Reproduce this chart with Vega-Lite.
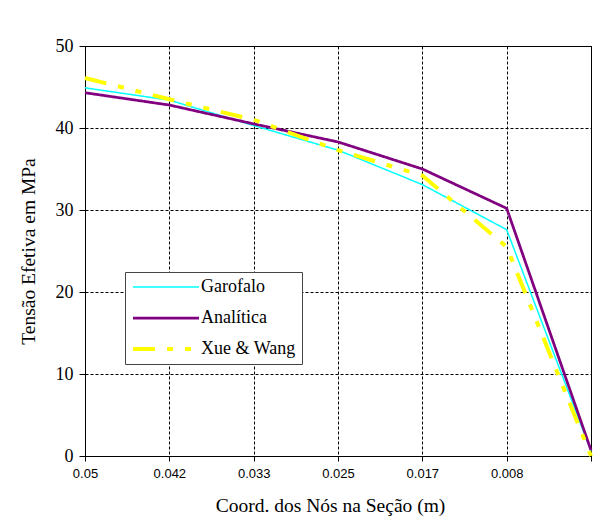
{
  "$schema": "https://vega.github.io/schema/vega-lite/v6.json",
  "width": 506,
  "height": 410,
  "autosize": {"type": "none"},
  "padding": {"left": 85, "top": 46, "right": 25, "bottom": 67},
  "background": "white",
  "data": {
    "values": [
      {"coord": "0.05", "series": "Garofalo", "v": 44.9},
      {"coord": "0.042", "series": "Garofalo", "v": 43.4},
      {"coord": "0.033", "series": "Garofalo", "v": 40.3},
      {"coord": "0.025", "series": "Garofalo", "v": 37.3},
      {"coord": "0.017", "series": "Garofalo", "v": 33.1},
      {"coord": "0.008", "series": "Garofalo", "v": 27.6},
      {"coord": "0", "series": "Garofalo", "v": 0.6},
      {"coord": "0.05", "series": "Analítica", "v": 44.3},
      {"coord": "0.042", "series": "Analítica", "v": 42.8},
      {"coord": "0.033", "series": "Analítica", "v": 40.5},
      {"coord": "0.025", "series": "Analítica", "v": 38.3},
      {"coord": "0.017", "series": "Analítica", "v": 35.0},
      {"coord": "0.008", "series": "Analítica", "v": 30.2},
      {"coord": "0", "series": "Analítica", "v": 0.7},
      {"coord": "0.05", "series": "Xue & Wang", "v": 46.1},
      {"coord": "0.042", "series": "Xue & Wang", "v": 43.5},
      {"coord": "0.033", "series": "Xue & Wang", "v": 41.0},
      {"coord": "0.025", "series": "Xue & Wang", "v": 37.3},
      {"coord": "0.017", "series": "Xue & Wang", "v": 34.2},
      {"coord": "0.008", "series": "Xue & Wang", "v": 25.5},
      {"coord": "0", "series": "Xue & Wang", "v": 0}
    ]
  },
  "encoding": {
    "x": {
      "field": "coord",
      "type": "ordinal",
      "scale": {"type": "point", "padding": 0, "domain": ["0.05", "0.042", "0.033", "0.025", "0.017", "0.008", "0"]},
      "axis": {
        "title": "Coord. dos Nós na Seção (m)",
        "titleFont": "Liberation Serif",
        "titleFontSize": 19.5,
        "titleFontWeight": "normal",
        "titleColor": "black",
        "titleX": 245,
        "titleY": 49,
        "titleBaseline": "middle",
        "titleAnchor": "middle",
        "labelFont": "Liberation Sans",
        "labelFontSize": 13,
        "labelColor": "black",
        "labelAngle": 0,
        "labelPadding": 6,
        "labelExpr": "datum.value == '0' ? '' : datum.value",
        "tickSize": 5,
        "tickColor": "black",
        "domainColor": "black",
        "grid": true,
        "gridColor": "black",
        "gridDash": [3, 2],
        "gridWidth": 1
      }
    },
    "y": {
      "field": "v",
      "type": "quantitative",
      "scale": {"domain": [0, 50], "nice": false},
      "axis": {
        "values": [0, 10, 20, 30, 40, 50],
        "title": "Tensão Efetiva em MPa",
        "titleFont": "Liberation Serif",
        "titleFontSize": 19.5,
        "titleFontWeight": "normal",
        "titleColor": "black",
        "titleAngle": -90,
        "titleX": -57,
        "titleY": 205,
        "titleBaseline": "middle",
        "titleAnchor": "middle",
        "labelFont": "Liberation Serif",
        "labelFontSize": 18,
        "labelColor": "black",
        "labelPadding": 6,
        "tickSize": 6,
        "tickColor": "black",
        "domainColor": "black",
        "grid": true,
        "gridColor": "black",
        "gridDash": [3, 2],
        "gridWidth": 1
      }
    },
    "color": {
      "field": "series",
      "type": "nominal",
      "scale": {"domain": ["Garofalo", "Analítica", "Xue & Wang"], "range": ["#00FFFF", "#800080", "#FFFF00"]},
      "legend": {
        "title": null,
        "orient": "none",
        "legendX": 40,
        "legendY": 226,
        "symbolType": "stroke",
        "symbolSize": 4356,
        "clipHeight": 18,
        "labelFont": "Liberation Serif",
        "labelFontSize": 18,
        "labelColor": "black",
        "labelOffset": 0,
        "rowPadding": 13,
        "padding": 6,
        "strokeColor": "#444444",
        "fillColor": "white"
      }
    },
    "strokeWidth": {
      "field": "series",
      "type": "nominal",
      "scale": {"domain": ["Garofalo", "Analítica", "Xue & Wang"], "range": [1.5, 4, 4.5]},
      "legend": {"title": null}
    },
    "strokeDash": {
      "field": "series",
      "type": "nominal",
      "scale": {"domain": ["Garofalo", "Analítica", "Xue & Wang"], "range": [[1, 0], [1, 0], [22, 12, 6, 12, 6, 12]]},
      "legend": {"title": null}
    }
  },
  "layer": [
    {"transform": [{"filter": "datum.series == 'Garofalo'"}], "mark": {"type": "line", "strokeCap": "butt"}},
    {"transform": [{"filter": "datum.series == 'Analítica'"}], "mark": {"type": "line", "strokeCap": "butt"}},
    {"transform": [{"filter": "datum.series == 'Xue & Wang'"}], "mark": {"type": "line", "strokeCap": "butt"}}
  ],
  "config": {
    "view": {"stroke": "black", "strokeWidth": 1},
    "legend": {"symbolType": "stroke", "symbolSize": 4356, "clipHeight": 18}
  }
}
